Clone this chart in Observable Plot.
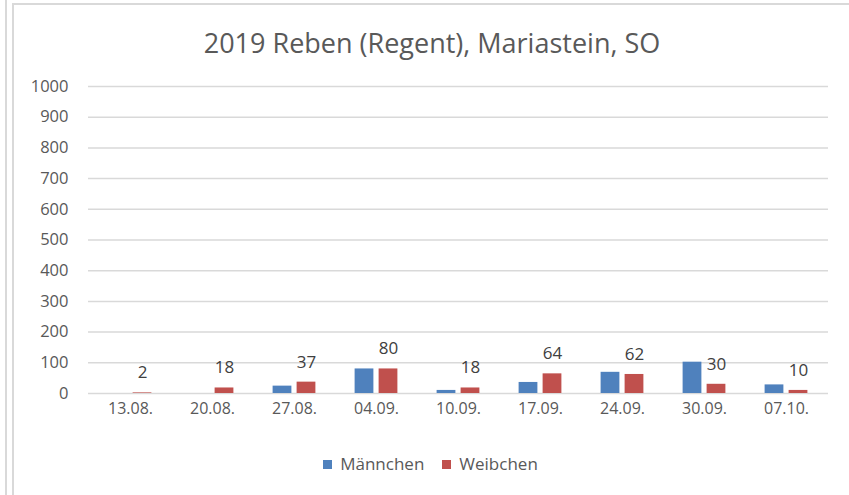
<!DOCTYPE html>
<html>
<head>
<meta charset="utf-8">
<script src="https://cdn.jsdelivr.net/npm/d3@7"></script>
<script src="https://cdn.jsdelivr.net/npm/@observablehq/plot@0.6"></script>
<style>
  html, body { margin: 0; padding: 0; background: #fff; }
  body { width: 849px; height: 495px; position: relative; overflow: hidden; font-family: "Open Sans", sans-serif; }
  #chart { position: absolute; left: 0; top: 0; }
  #title { position: absolute; left: 0; width: 864px; top: 25px; text-align: center; font-size: 27px; color: #595959; line-height: 36px; }
  #legend { position: absolute; left: 0; width: 861px; top: 452px; text-align: center; font-size: 17px; color: #595959; line-height: 24px; }
  #legend span.sw { display: inline-block; width: 9px; height: 9px; margin-right: 8px; vertical-align: 1px; }
  #legend span.item { margin: 0 9px; }
  .b { position: absolute; background: #d9d9d9; }
</style>
</head>
<body>
<div class="b" style="left:5px;top:0;width:2px;height:495px"></div>
<div class="b" style="left:12px;top:3px;width:2px;height:492px"></div>
<div class="b" style="left:12px;top:3px;width:837px;height:2px"></div>
<div id="chart"></div>
<div id="title">2019 Reben (Regent), Mariastein, SO</div>
<div id="legend"></div>
<script>
const dates = ["13.08.", "20.08.", "27.08.", "04.09.", "10.09.", "17.09.", "24.09.", "30.09.", "07.10."];
const maennchen = [0, 0, 24, 80, 10, 36, 69, 102, 28];
const weibchen = [2, 18, 37, 80, 18, 64, 62, 30, 10];
const yTicks = [0, 100, 200, 300, 400, 500, 600, 700, 800, 900, 1000];
const seriesNames = ["Männchen", "Weibchen"];
const seriesColors = ["#4F81BD", "#C0504D"];

const male = dates.map((d, i) => ({date: d, value: maennchen[i]}));
const female = dates.map((d, i) => ({date: d, value: weibchen[i]}));

const bandInset = (740 / dates.length - 19) / 2;

const plot = Plot.plot({
  width: 849,
  height: 495,
  marginLeft: 88,
  marginRight: 21,
  marginTop: 86,
  marginBottom: 102,
  style: {fontFamily: "Open Sans, sans-serif", fontSize: "16px", color: "#595959", background: "transparent"},
  x: {domain: dates, padding: 0},
  y: {domain: [0, 1000]},
  marks: [
    Plot.ruleY(yTicks, {stroke: "#d9d9d9", strokeWidth: 1.5}),
    Plot.axisY({ticks: yTicks, tickFormat: d => String(d), label: null, tickSize: 0, tickPadding: 20, fontSize: 16.5, fill: "#595959"}),
    Plot.axisX({label: null, tickSize: 0, tickPadding: 9, fontSize: 16, fill: "#595959"}),
    Plot.barY(male, {x: "date", y: "value", fill: seriesColors[0], dx: -12, insetLeft: bandInset, insetRight: bandInset}),
    Plot.barY(female, {x: "date", y: "value", fill: seriesColors[1], dx: 12, insetLeft: bandInset, insetRight: bandInset}),
    Plot.text(female, {x: "date", y: "value", text: d => String(d.value), dx: 12, dy: -20, fill: "#404040", fontSize: 17})
  ]
});
document.getElementById("chart").appendChild(plot);

const legend = document.getElementById("legend");
seriesNames.forEach((n, i) => {
  const item = document.createElement("span");
  item.className = "item";
  const sw = document.createElement("span");
  sw.className = "sw";
  sw.style.background = seriesColors[i];
  item.appendChild(sw);
  item.appendChild(document.createTextNode(n));
  legend.appendChild(item);
});
</script>
</body>
</html>
